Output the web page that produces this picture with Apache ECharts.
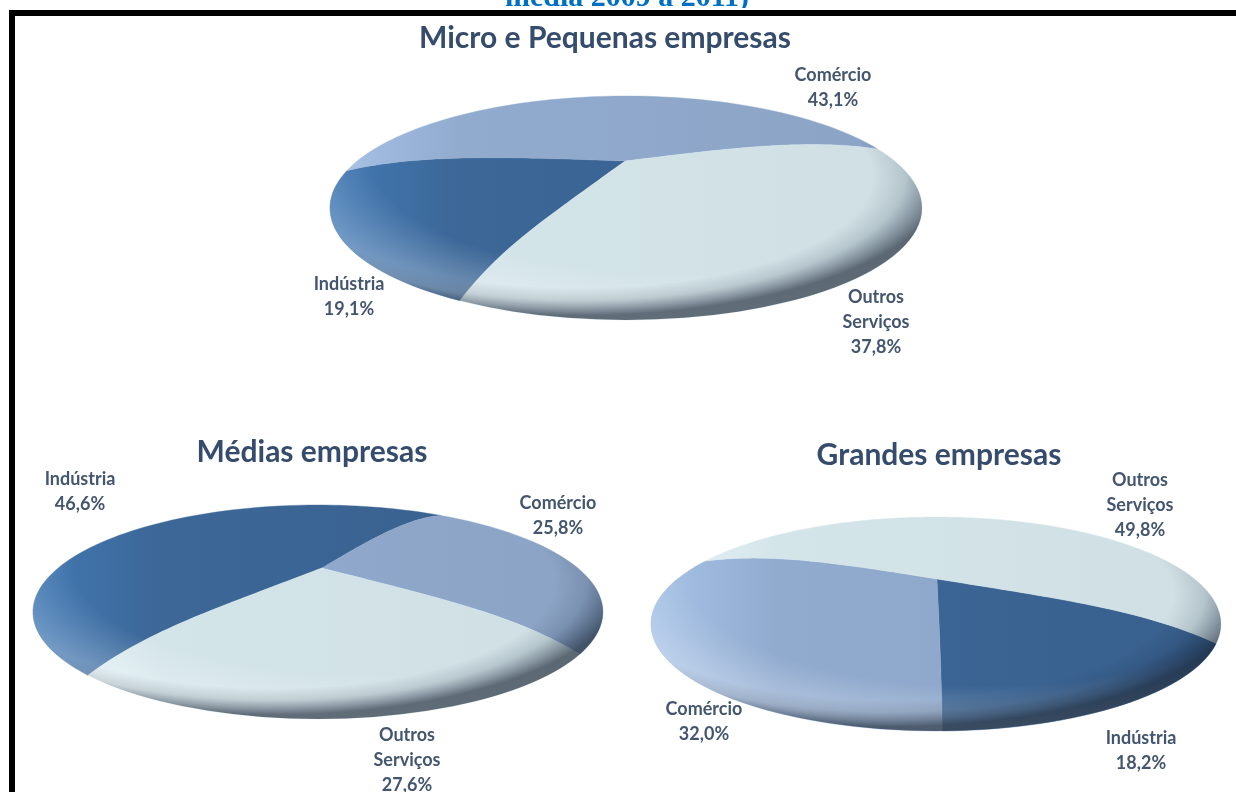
<!DOCTYPE html>
<html><head><meta charset="utf-8">
<style>html,body{margin:0;padding:0;background:#fff}#c{width:1236px;height:792px}</style>
<script src="https://cdn.jsdelivr.net/npm/echarts@6/dist/echarts.min.js"></script>
</head><body><div id="c"></div>
<script>
const categories = ['Indústria', 'Comércio', 'Outros Serviços'];
const labelLines = [['Indústria'], ['Comércio'], ['Outros', 'Serviços']];
const microPequenas = [19.1, 43.1, 37.8];
const medias = [46.6, 25.8, 27.6];
const grandes = [18.2, 32.0, 49.8];
const pieTitles = ['Micro e Pequenas empresas', 'Médias empresas', 'Grandes empresas'];
const pieValues = [microPequenas, medias, grandes];
const headerText = 'média 2009 a 2011)';

// layout of each tilted pie: outline centre, semi-axes, perspective apex, start angle of the first category
const pies = [
  {cx: 626, cy: 208, rx: 296, ry: 112, ax: 625, ay: 161, start: 117, tx: 605, ty: 38,
   labels: [[349, 297], [833, 88], [876, 322]]},
  {cx: 318, cy: 612, rx: 285, ry: 107, ax: 322, ay: 568, start: 134, tx: 312, ty: 452,
   labels: [[80, 492], [558, 516], [407, 760]]},
  {cx: 936, cy: 624, rx: 285, ry: 107, ax: 937, ay: 579, start: 23.5, tx: 939, ty: 455,
   labels: [[1141, 751], [704, 722], [1140, 505]]}
];
const DROP = 20;
const sliceColors = [
  {l: '#4279b4', m: '#3c6797', r: '#39608e'},
  {l: '#a6c2e6', m: '#91abcf', r: '#8ba3c4'},
  {l: '#e6f3f7', m: '#d4e5ea', r: '#cfdfe4'}
];

// perspective disc projection: true polar position -> screen position
function project(p, rho, deg) {
  const a = deg * Math.PI / 180;
  const x = rho * Math.cos(a), y = rho * Math.sin(a);
  const cy0 = p.cy - DROP;
  const k = (cy0 - p.ay) / p.ry;
  const w = 1 - k * y;
  const xd = x * Math.sqrt(1 - k * k) / w;
  const yd = (y - k) / w;
  const r2 = Math.min(1, xd * xd + yd * yd);
  return [
    p.cx + p.rx * xd + (p.ax - p.cx) * (1 - r2),
    cy0 + p.ry * yd + DROP * r2 * r2
  ];
}

function slicePoints(p, a0, a1) {
  const pts = [];
  const n = 40, m = Math.max(8, Math.ceil((a1 - a0) / 2));
  for (let i = 0; i <= n; i++) pts.push(project(p, i / n, a0));
  for (let i = 1; i <= m; i++) pts.push(project(p, 1, a0 + (a1 - a0) * i / m));
  for (let i = n - 1; i > 0; i--) pts.push(project(p, i / n, a1));
  return pts;
}

const sliceData = [];
pieValues.forEach((vals, pi) => vals.forEach((v, ci) => sliceData.push([pi, ci, v])));

const fmt = v => v.toFixed(1).replace('.', ',') + '%';
const graphics = [
  {type: 'text', silent: true, z: 5, x: 627, y: 13, style: {text: headerText, align: 'center', verticalAlign: 'bottom',
    font: 'bold 30px "Liberation Serif"', fill: '#0070c0'}},
  {type: 'rect', silent: true, z: 20, shape: {x: 0, y: 8, width: 1236, height: 2}, style: {fill: '#fff'}},
  {type: 'rect', silent: true, z: 20, shape: {x: 9, y: 10, width: 1227, height: 6}, style: {fill: '#000'}},
  {type: 'rect', silent: true, z: 20, shape: {x: 9, y: 10, width: 6, height: 782}, style: {fill: '#000'}}
];
pies.forEach((p, pi) => {
  graphics.push({type: 'text', silent: true, z: 30, x: p.tx, y: p.ty, style: {text: pieTitles[pi], align: 'center', verticalAlign: 'middle',
    font: 'bold 30px Lato', fill: '#364c6c'}});
  pieValues[pi].forEach((v, ci) => {
    graphics.push({type: 'text', silent: true, z: 30, x: p.labels[ci][0], y: p.labels[ci][1], style: {
      text: labelLines[ci].concat([fmt(v)]).join('\n'), align: 'center', verticalAlign: 'middle', lineHeight: 25,
      font: 'bold 18px Lato', fill: '#44566f'}});
  });
});

function reliefItem(api, gx, gy, gr, stops, blend) {
  const p = pies[api.value(0)];
  return {
    type: 'circle', x: p.cx, y: p.cy, scaleY: p.ry / p.rx,
    shape: {cx: 0, cy: 0, r: p.rx},
    style: {
      blend: blend,
      fill: {type: 'radial', x: gx, y: gy, r: gr, colorStops: stops}
    }
  };
}
const glowStops = [
  {offset: 0, color: 'rgba(255,255,255,0)'},
  {offset: 0.6, color: 'rgba(255,255,255,0)'},
  {offset: 0.83, color: 'rgba(255,255,255,0.32)'},
  {offset: 0.93, color: 'rgba(255,255,255,0)'},
  {offset: 1, color: 'rgba(255,255,255,0)'}
];
const rimStops = [
  {offset: 0, color: 'rgba(20,35,55,0)'},
  {offset: 0.8, color: 'rgba(20,35,55,0)'},
  {offset: 0.89, color: 'rgba(20,35,55,0.14)'},
  {offset: 0.95, color: 'rgba(20,35,55,0.4)'},
  {offset: 1, color: 'rgba(18,30,45,0.62)'}
];

const chart = echarts.init(document.getElementById('c'), null, {renderer: 'canvas'});
chart.setOption({
  animation: false,
  backgroundColor: '#fff',
  graphic: graphics,
  series: [
    {
      type: 'custom', coordinateSystem: 'none', silent: true, name: 'Participação', z: 2,
      data: sliceData,
      renderItem(params, api) {
        const pi = api.value(0), ci = api.value(1);
        const vals = pieValues[pi], p = pies[pi];
        let before = 0;
        for (let i = 0; i < ci; i++) before += vals[i];
        const total = vals.reduce((a, b) => a + b, 0);
        const a0 = p.start + before / total * 360;
        const a1 = a0 + api.value(2) / total * 360;
        const c = sliceColors[ci];
        return {
          type: 'polygon',
          shape: {points: slicePoints(p, a0, a1)},
          style: {
            fill: {type: 'linear', x: p.cx - p.rx, y: 0, x2: p.cx + p.rx, y2: 0, global: true,
              colorStops: [{offset: 0, color: c.l}, {offset: 0.22, color: c.m}, {offset: 1, color: c.r}]},
            stroke: c.m, lineWidth: 0.4
          }
        };
      }
    },
    {
      type: 'custom', coordinateSystem: 'none', silent: true, name: 'Brilho', z: 3,
      data: pies.map((p, i) => [i]),
      renderItem(params, api) { return reliefItem(api, 0.58, 0.28, 0.85, glowStops, 'soft-light'); }
    },
    {
      type: 'custom', coordinateSystem: 'none', silent: true, name: 'Relevo', z: 4,
      data: pies.map((p, i) => [i]),
      renderItem(params, api) { return reliefItem(api, 0.42, 0.36, 0.62, rimStops); }
    }
  ]
});
</script></body></html>
